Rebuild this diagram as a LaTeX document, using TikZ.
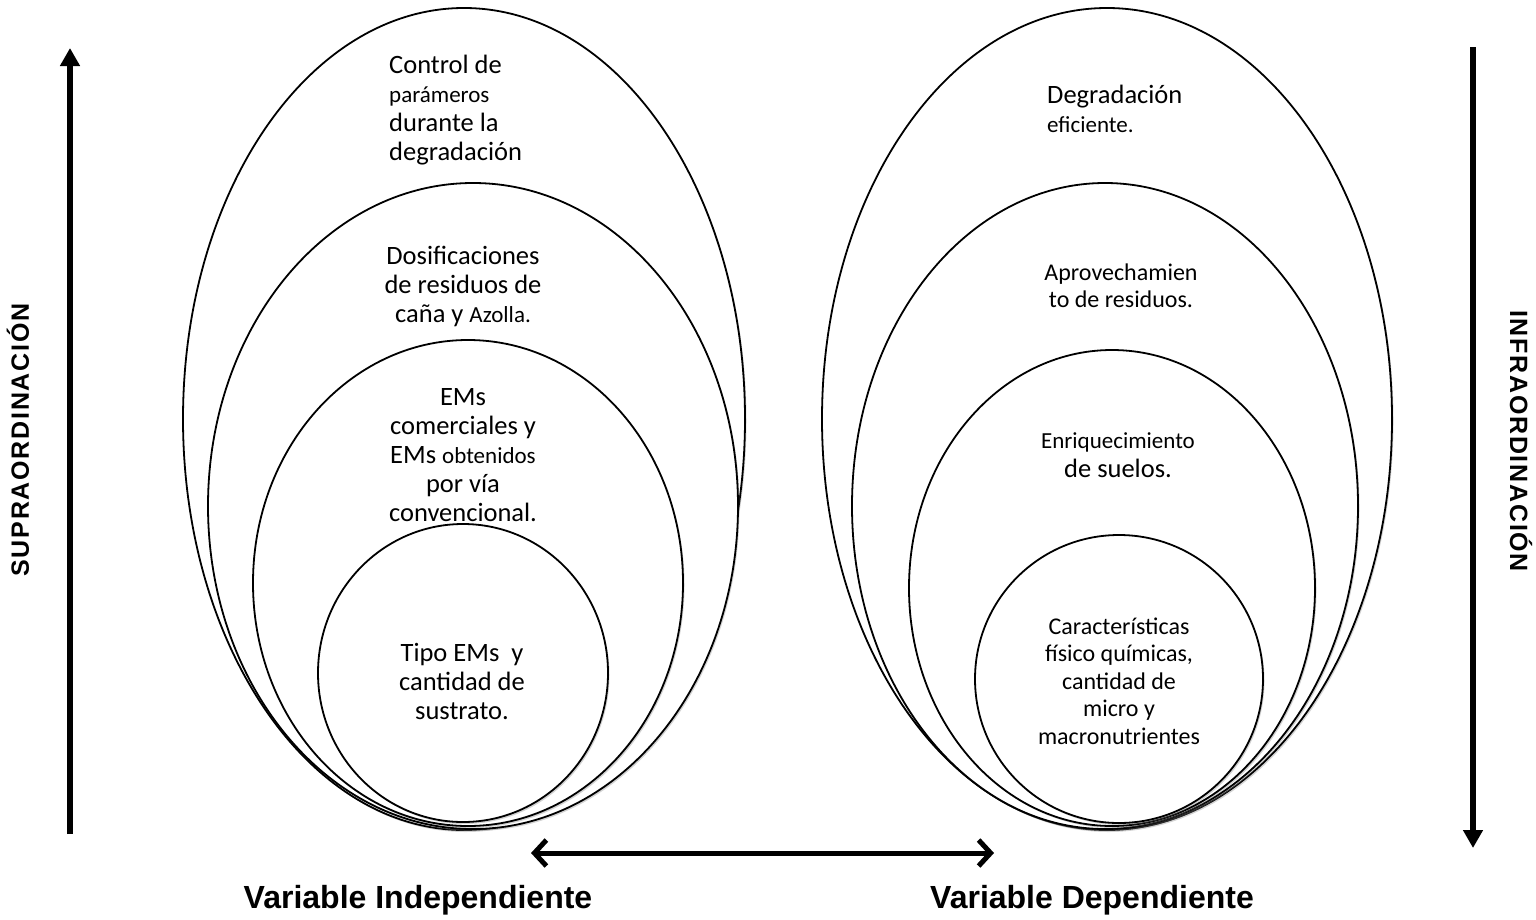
\documentclass[tikz,border=0pt]{standalone}
\usepackage{fontspec}
\setmainfont{Carlito}
\newfontfamily\labelfont{Liberation Sans}
\newfontfamily\sidefont{Liberation Sans Bold}[LetterSpace=7]
\usetikzlibrary{arrows.meta,shadows}
\newcommand{\smallword}[1]{{\fontsize{23}{29}\selectfont #1}}
\begin{document}
\begin{tikzpicture}[x=1pt,y=-1pt,
  oval/.style={draw=black,line width=1.8pt,fill=white,
    drop shadow={shadow xshift=1.5pt,shadow yshift=-2pt,opacity=0.35}},
  txt/.style={font=\fontsize{26.5}{29}\selectfont,align=center,inner sep=0pt},
  small/.style={font=\fontsize{24}{27.5}\selectfont,align=center,inner sep=0pt},
  side/.style={font=\sidefont\fontsize{25}{27}\selectfont,inner sep=0pt},
  bottomlabel/.style={font=\labelfont\bfseries\fontsize{32}{34}\selectfont,inner sep=0pt},
  vert/.style={line width=6pt,-{Triangle[width=19pt,length=18pt]}},
  both/.style={line width=5pt,line cap=round,
    {Straight Barb[length=12pt,width=26pt,line width=5pt]}-{Straight Barb[length=12pt,width=26pt,line width=5pt]}}
]
\useasboundingbox (0,0) rectangle (1536,919);

% independent variable: nested ovals
\path[oval] (464,419) ellipse [x radius=281,y radius=411];
\path[oval] (473,506) ellipse [x radius=265,y radius=323];
\path[oval] (468,583) ellipse [x radius=215,y radius=243];
\path[oval] (463,673) ellipse [x radius=145,y radius=149];

% dependent variable: nested ovals
\path[oval] (1107,419) ellipse [x radius=285,y radius=411];
\path[oval] (1105,506) ellipse [x radius=253,y radius=323];
\path[oval] (1112,588) ellipse [x radius=203,y radius=238];
\path[oval] (1119,679) ellipse [x radius=144,y radius=144];

% texts, independent side
\node[txt,align=left,anchor=west] (ctrl) at (389,110)
  {Control de\\\smallword{parámeros}\\durante la\\degradación};
\node[txt] (dosif) at (463,286)
  {Dosificaciones\\de residuos de\\caña y \smallword{Azolla.}};
\node[txt] (ems) at (463,455)
  {EMs\\comerciales y\\EMs \smallword{obtenidos}\\por vía\\convencional.};
\node[txt] (tipo) at (462,681)
  {Tipo EMs\ \ y\\cantidad de\\sustrato.};

% texts, dependent side
\node[txt,align=left,anchor=west] (degr) at (1047,109)
  {Degradación\\\smallword{eficiente.}};
\node[small] (aprov) at (1121,286)
  {Aprovechamien\\to de residuos.};
\node[txt] (enriq) at (1118,455)
  {{\fontsize{23}{28}\selectfont Enriquecimiento}\\de suelos.};
\node[small] (caract) at (1119,681)
  {Características\\físico químicas,\\cantidad de\\micro y\\macronutrientes};

% side labels and arrows
\node[side,rotate=90] (supra) at (18,440) {SUPRAORDINACIÓN};
\node[side,rotate=-90] (infra) at (1521,441) {INFRAORDINACIÓN};

\coordinate (upfoot) at (70,834);
\coordinate (uptip) at (70,48);
\coordinate (downfoot) at (1473,47);
\coordinate (downtip) at (1473,848);
\draw[vert] (upfoot) -- (uptip);
\draw[vert] (downfoot) -- (downtip);

\coordinate (bl) at (531,853);
\coordinate (br) at (994,853);
\draw[both] (bl) -- (br);

\node[bottomlabel] (vi) at (418,900) {Variable Independiente};
\node[bottomlabel] (vd) at (1092,900) {Variable Dependiente};
\end{tikzpicture}
\end{document}
